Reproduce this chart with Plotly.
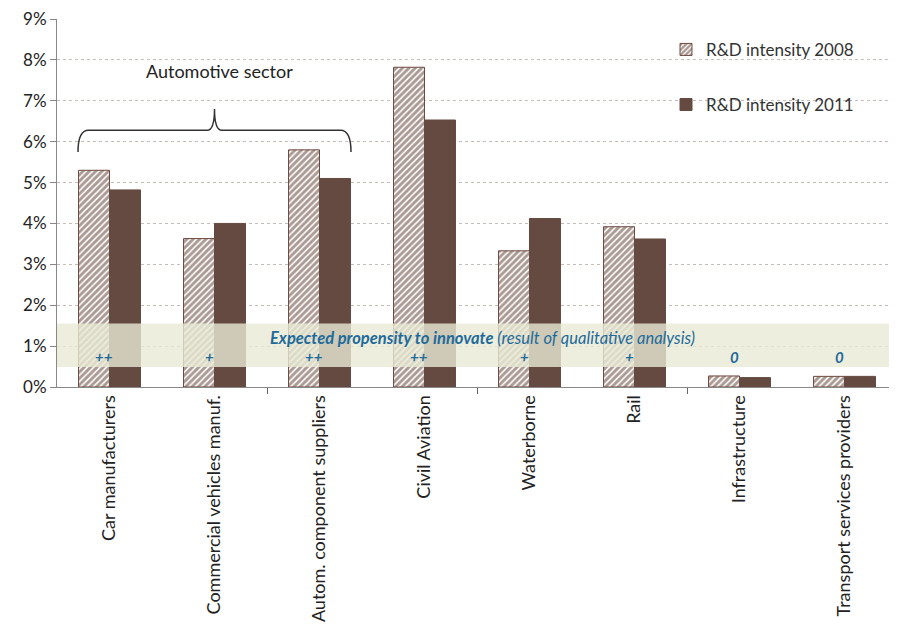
import plotly.graph_objects as go

categories = ["Car manufacturers", "Commercial vehicles manuf.", "Autom. component suppliers",
              "Civil Aviation", "Waterborne", "Rail", "Infrastructure", "Transport services providers"]
rd_2008 = [5.30, 3.63, 5.80, 7.82, 3.33, 3.92, 0.27, 0.26]
rd_2011 = [4.82, 4.00, 5.10, 6.53, 4.12, 3.62, 0.23, 0.26]
propensity = ["++", "+", "++", "++", "+", "+", "0", "0"]
y_ticks = [0, 1, 2, 3, 4, 5, 6, 7, 8, 9]
y_tick_labels = [f"{v}%" for v in y_ticks]

FONT = "Lato, Noto Sans, sans-serif"
BROWN = "#644a40"
HATCH = "#553428"
BLUE = "#1f6a9a"

xpos = list(range(len(categories)))

fig = go.Figure()
fig.add_trace(go.Bar(
    x=xpos, y=rd_2008, name="R&D intensity 2008", legendgroup="a",
    marker=dict(color="white", line=dict(color="#6e4a3e", width=1),
                pattern=dict(shape="/", fgcolor=HATCH, bgcolor="white", size=4.5, solidity=0.65)),
))
fig.add_trace(go.Bar(
    x=xpos, y=rd_2011, name="R&D intensity 2011", legendgroup="b",
    marker=dict(color=BROWN, line=dict(color=BROWN, width=1)),
))

# dummy trace for secondary tick axis
fig.add_trace(go.Scatter(x=[0], y=[0], xaxis="x2", mode="markers",
                         marker=dict(opacity=0), showlegend=False, hoverinfo="skip"))

# propensity band
fig.add_shape(type="rect", xref="paper", yref="y", x0=0, x1=1, y0=0.49, y1=1.55,
              fillcolor="rgba(232,234,212,0.80)", line=dict(width=0), layer="above")

fig.add_annotation(x=3.55, y=1.2, xref="x", yref="y", showarrow=False,
                   text="<b><i>Expected propensity to innovate</i></b><i> (result of qualitative analysis)</i>",
                   font=dict(family=FONT, size=16.5, color=BLUE))
for i, s in enumerate(propensity):
    fig.add_annotation(x=i - 0.05, y=0.73, xref="x", yref="y", showarrow=False,
                       text=f"<b><i>{s}</i></b>", font=dict(family=FONT, size=15, color=BLUE))

# Automotive brace
brace = ("M -0.30,5.75 Q -0.30,6.28 -0.20,6.28 L 0.93,6.28 Q 1.00,6.28 1.00,6.80 "
         "Q 1.00,6.28 1.07,6.28 L 2.20,6.28 Q 2.30,6.28 2.30,5.75")
fig.add_shape(type="path", path=brace, xref="x", yref="y",
              line=dict(color="#333333", width=1.5))
fig.add_annotation(x=1.05, y=7.72, xref="x", yref="y", showarrow=False,
                   text="Automotive sector", font=dict(family=FONT, size=18, color="#222222"))

fig.update_layout(
    width=889, height=617,
    margin=dict(l=49, r=0, t=8, b=238),
    paper_bgcolor="white", plot_bgcolor="white",
    barmode="group", bargap=0.41, bargroupgap=0,
    font=dict(family=FONT, size=15, color="#222222"),
    showlegend=True,
    legend=dict(x=0.725, y=0.965, xanchor="left", yanchor="top",
                traceorder="grouped", tracegroupgap=30,
                font=dict(family=FONT, size=17, color="#333333"),
                bgcolor="rgba(255,255,255,0)", itemwidth=30),
    xaxis=dict(range=[-0.5, 7.5], tickmode="array", tickvals=xpos, ticktext=categories,
               tickangle=-90, ticks="", showgrid=False, zeroline=False,
               showline=True, linecolor="#888888", linewidth=1,
               tickfont=dict(family=FONT, size=18, color="#222222")),
    xaxis2=dict(range=[-0.5, 7.5], overlaying="x", side="bottom", anchor="y",
                tickmode="array", tickvals=[1.5, 3.5, 5.5], ticks="outside",
                ticklen=6, tickcolor="#666666", showticklabels=False,
                showgrid=False, zeroline=False, showline=False),
    yaxis=dict(range=[0, 9], tickmode="array", tickvals=y_ticks, ticktext=y_tick_labels,
               ticks="outside", ticklen=6, tickcolor="#888888",
               ticklabeloverflow="allow",
               showgrid=True, gridcolor="#c9bcb6", griddash="dot", gridwidth=1,
               showline=True, linecolor="#888888", linewidth=1, zeroline=False,
               tickfont=dict(family=FONT, size=17, color="#222222")),
)

fig.write_html("out.html")
